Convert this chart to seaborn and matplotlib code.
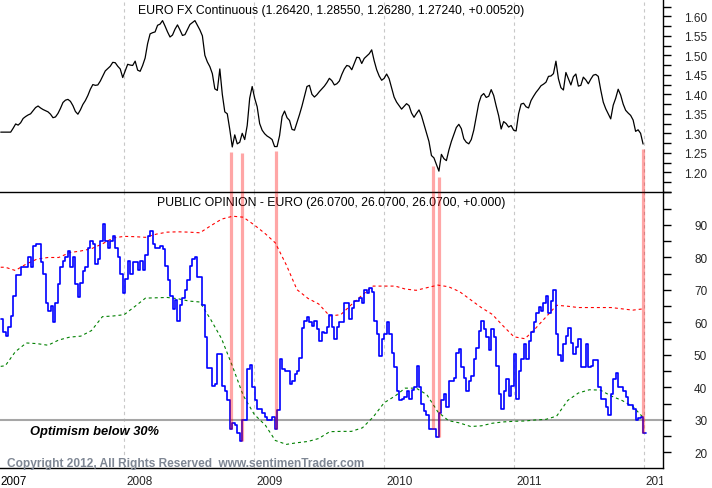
import numpy as np
import pandas as pd
import matplotlib
matplotlib.use("Agg")
import matplotlib.pyplot as plt
import matplotlib.dates as mdates
import matplotlib.ticker as mticker
import matplotlib.transforms as mtransforms
import seaborn as sns

sns.set_style("white")
plt.rcParams["font.family"] = ["Liberation Sans", "DejaVu Sans"]

# ---------------- data ----------------
week_start = "2007-01-19"

euro_price = [
    1.303, 1.303, 1.303, 1.303, 1.303, 1.313, 1.324, 1.321, 1.327, 1.338,
    1.343, 1.347, 1.35, 1.358, 1.366, 1.37, 1.365, 1.361, 1.358, 1.355,
    1.349, 1.34, 1.342, 1.351, 1.364, 1.379, 1.385, 1.387, 1.382, 1.371,
    1.356, 1.349, 1.36, 1.374, 1.384, 1.397, 1.413, 1.425, 1.423, 1.424,
    1.434, 1.447, 1.46, 1.466, 1.472, 1.482, 1.481, 1.472, 1.465, 1.443,
    1.46, 1.477, 1.475, 1.474, 1.485, 1.462, 1.459, 1.474, 1.493, 1.53,
    1.555, 1.558, 1.56, 1.577, 1.58, 1.589, 1.575, 1.56, 1.547, 1.552,
    1.567, 1.578, 1.565, 1.551, 1.553, 1.566, 1.579, 1.584, 1.589, 1.577,
    1.565, 1.55, 1.5, 1.483, 1.471, 1.453, 1.414, 1.41, 1.465, 1.40,
    1.355, 1.35, 1.31, 1.265, 1.296, 1.273, 1.277, 1.3, 1.284, 1.32,
    1.39, 1.42, 1.39, 1.368, 1.325, 1.308, 1.299, 1.293, 1.289, 1.284,
    1.266, 1.266, 1.294, 1.343, 1.357, 1.34, 1.333, 1.31, 1.308, 1.328,
    1.348, 1.37, 1.395, 1.42, 1.423, 1.40, 1.393, 1.399, 1.407, 1.414,
    1.421, 1.43, 1.441, 1.435, 1.424, 1.427, 1.434, 1.451, 1.465, 1.474,
    1.472, 1.463, 1.479, 1.495, 1.494, 1.479, 1.492, 1.498, 1.504, 1.514,
    1.486, 1.463, 1.447, 1.436, 1.441, 1.452, 1.44, 1.417, 1.393, 1.38,
    1.371, 1.362, 1.369, 1.376, 1.371, 1.352, 1.341, 1.351, 1.36, 1.345,
    1.323, 1.302, 1.279, 1.243, 1.237, 1.22, 1.203, 1.246, 1.235, 1.23,
    1.257, 1.279, 1.297, 1.315, 1.323, 1.312, 1.286, 1.277, 1.273, 1.284,
    1.308, 1.342, 1.377, 1.396, 1.402, 1.392, 1.395, 1.412, 1.397, 1.37,
    1.345, 1.311, 1.33, 1.325, 1.316, 1.32, 1.308, 1.306, 1.35, 1.375,
    1.377, 1.368, 1.365, 1.384, 1.395, 1.405, 1.413, 1.422, 1.426, 1.431,
    1.446, 1.447, 1.453, 1.485, 1.44, 1.417, 1.411, 1.456, 1.44, 1.424,
    1.445, 1.452, 1.421, 1.423, 1.444, 1.437, 1.427, 1.439, 1.449, 1.451,
    1.446, 1.411, 1.38, 1.363, 1.35, 1.337, 1.372, 1.39, 1.413, 1.398,
    1.375, 1.359, 1.352, 1.346, 1.334, 1.305, 1.309, 1.30, 1.2724,
]

public_opinion = [
    61, 57, 55.8, 58.5, 62, 68, 74.5, 74.5, 77, 77,
    77, 80, 77, 83.4, 84.3, 84.3, 78.5, 75, 66, 63.4,
    65, 60, 66, 71.7, 77, 79, 80, 82, 77, 80,
    71.7, 67.7, 72, 75.7, 77, 83, 85, 84, 78, 79.5,
    85, 90.4, 85, 83, 85, 86.5, 83, 80, 75, 69,
    73.5, 79, 75, 78.5, 78.5, 76, 79, 76, 80.7, 86.5,
    88.3, 84, 83, 83, 83.5, 82.5, 77.5, 73, 68, 64,
    67, 60.4, 65.5, 67.5, 70, 73.2, 77.3, 79.5, 80.3, 74,
    74, 65.5, 55.4, 46, 46, 40.4, 41, 50.2, 50.2, 40.5,
    39, 36, 27.3, 29, 28.5, 26, 23.5, 30, 30, 45.6,
    46.8, 40, 36, 33.5, 33.5, 32, 31, 30, 30, 31,
    27.3, 33, 48.7, 45.6, 45, 45, 41, 42, 44, 45,
    49, 58.4, 60.5, 61.7, 60, 58.8, 60.4, 58, 54.3, 57,
    56.8, 58.5, 62.4, 58.5, 54.8, 58.5, 60, 60, 66, 66,
    61, 64.5, 66.6, 66.6, 67.5, 66, 70, 69, 70.5, 69.5,
    60.5, 56.4, 49.7, 54.8, 56.4, 60, 56.4, 50.5, 46.3, 39,
    36, 36.5, 37, 39, 36.5, 39.3, 40, 46.7, 40, 34.8,
    32.8, 31.5, 27.2, 27.2, 27.2, 24.8, 32, 36, 38, 34,
    42, 42, 43, 50.5, 51.8, 46.3, 43, 39, 42, 43.5,
    48.7, 52, 57.4, 60.5, 58, 55.4, 51.5, 58, 55.4, 46.7,
    38, 33.4, 39, 42.6, 37.4, 40.4, 50.2, 36.4, 45, 48.7,
    53.3, 48.7, 54.3, 57, 60, 63, 64.7, 63.5, 66, 68.1,
    63, 66.5, 70, 56.4, 50, 48, 53.3, 55.8, 58.2, 53.8,
    50.4, 52.5, 55, 46.3, 46.3, 53.3, 46.3, 46.7, 48.5, 48.5,
    40, 36.5, 36.5, 34, 31.5, 38, 42.6, 44.5, 40, 40,
    39, 37, 34.6, 34.6, 33.4, 30, 30.6, 31, 26,
]

band_upper = [
    77, 77, 76, 78, 79.5, 80, 80, 81.5, 82, 82.7,
    84.2, 86, 86.5, 86.4, 86.2, 87.2, 87.8, 87.9, 87.8, 87.6,
    89.8, 91.8, 92.7, 92.4, 90, 87.3, 84.5, 77.7, 70.1, 67.4,
    65.7, 62, 62.4, 65.5, 68.5, 71.2, 71.2, 71.2, 70.3, 69.9,
    70.7, 71.5, 71, 69.5, 67, 64.6, 62.5, 59, 55.6, 55,
    58, 61.7, 65.3, 65, 64.6, 64.6, 64.6, 64.6, 64.2, 63.8,
    64.2,
]
band_lower = [
    46.5, 46.7, 51, 53.7, 53.5, 53, 54.6, 55.5, 55.8, 57.5,
    61.8, 62, 62.4, 65, 67.5, 67.6, 67.7, 67.3, 66.6, 66.3,
    60.8, 55, 46.4, 37.5, 31.7, 28.4, 23.7, 22.5, 23, 23.4,
    24.3, 26.4, 26.5, 26.5, 27.6, 30.9, 35.3, 37.4, 39.8, 39.8,
    37.8, 32.5, 29.8, 29.1, 28, 28.2, 29, 29.4, 29.6, 29.7,
    30, 30.2, 31.2, 36, 38.3, 39.3, 39.2, 37.4, 36, 34.2,
    30.8,
]

event_dates = ["2008-10-27", "2008-11-26", "2009-03-02",
               "2010-05-17", "2010-06-05", "2011-12-30"]
event_price = [1.252, 1.250, 1.254, 1.217, 1.187, 1.260]
event_opinion = [27.3, 23.5, 27.3, 27.2, 24.8, 26.0]

threshold = 30
price_ticks = [1.20, 1.25, 1.30, 1.35, 1.40, 1.45, 1.50, 1.55, 1.60]
opinion_ticks = [20, 30, 40, 50, 60, 70, 80, 90]

top_title = "EURO FX Continuous (1.26420, 1.28550, 1.26280, 1.27240, +0.00520)"
bottom_title = "PUBLIC OPINION - EURO (26.0700, 26.0700, 26.0700, +0.000)"
note_text = "Optimism below 30%"
copyright_text = "Copyright 2012, All Rights Reserved  www.sentimenTrader.com"

# ---------------- frames ----------------
price_df = pd.DataFrame({
    "date": pd.date_range(week_start, periods=len(euro_price), freq="7D"),
    "price": euro_price,
})
op_dates = pd.date_range(week_start, periods=len(public_opinion) + 1, freq="7D")
op_df = pd.DataFrame({"date": op_dates,
                      "value": public_opinion + [public_opinion[-1]]})
band_dates = ([pd.Timestamp(week_start)]
              + list(pd.date_range("2007-02-01", "2011-12-01", freq="MS"))
              + [pd.Timestamp("2011-12-30")])
band_df = pd.DataFrame({"date": band_dates, "upper": band_upper,
                        "lower": band_lower})
ev = pd.to_datetime(event_dates)

# ---------------- figure ----------------
W, H = 712, 489
fig = plt.figure(figsize=(W / 100, H / 100), dpi=100)
right_px, sep_px, bot_px = 663, 193, 469
ax1 = fig.add_axes([0, (H - sep_px) / H, right_px / W, sep_px / H])
ax2 = fig.add_axes([0, (H - bot_px) / H, right_px / W, (bot_px - sep_px) / H],
                   sharex=ax1)

# top panel: price
sns.lineplot(data=price_df, x="date", y="price", ax=ax1, color="black",
             lw=0.9, zorder=3)
ax1.set_ylim(1.1495, 1.6444)
ax1.vlines(ev, 1.1495, event_price, color="red", alpha=0.35, lw=2.3, zorder=4)

# bottom panel: opinion
ax2.axhline(threshold, color="#a6a6a6", lw=1.5, zorder=1)
sns.lineplot(data=band_df, x="date", y="upper", ax=ax2, color="#ff0000",
             lw=0.8, linestyle=(0, (2.7, 2.7)), zorder=2)
sns.lineplot(data=band_df, x="date", y="lower", ax=ax2, color="#008000",
             lw=0.8, linestyle=(0, (2.7, 2.7)), zorder=2)
sns.lineplot(data=op_df, x="date", y="value", ax=ax2, color="#0000ff",
             lw=1.2, drawstyle="steps-post", zorder=3)
ax2.set_ylim(15.23, 100.15)
ax2.vlines(ev, event_opinion, 100.15, color="red", alpha=0.35, lw=2.3,
           zorder=4)

ax2.set_xlim(pd.Timestamp("2007-01-17"), pd.Timestamp("2012-02-24"))

for ax in (ax1, ax2):
    ax.set_xlabel("")
    ax.set_ylabel("")
    ax.set_facecolor("white")
    ax.grid(True, axis="x", which="major", color="#c8c8c8",
            linestyle=(0, (3, 3)), lw=0.8)
    ax.grid(False, axis="y")
    ax.spines["left"].set_visible(False)
    for s in ax.spines.values():
        s.set_color("black")
        s.set_linewidth(1.0)
    ax.yaxis.tick_right()
    ax.tick_params(axis="y", which="both", direction="out", length=5.8,
                   width=1, color="black", right=True, left=False,
                   labelsize=8.5, pad=26, labelright=True, labelleft=False)

ax1.spines["top"].set_visible(False)
ax1.spines["bottom"].set_visible(False)
ax1.yaxis.set_major_locator(mticker.FixedLocator(price_ticks))
ax1.yaxis.set_minor_locator(mticker.MultipleLocator(0.025))
ax1.yaxis.set_major_formatter(mticker.FormatStrFormatter("%.2f"))
ax1.tick_params(axis="x", which="both", length=0, labelbottom=False)

ax2.yaxis.set_major_locator(mticker.FixedLocator(opinion_ticks))
ax2.yaxis.set_minor_locator(mticker.MultipleLocator(5))
ax2.yaxis.set_major_formatter(mticker.FormatStrFormatter("%d"))

ax2.xaxis.set_major_locator(mdates.YearLocator())
ax2.xaxis.set_minor_locator(mdates.MonthLocator())
ax2.xaxis.set_major_formatter(mdates.DateFormatter("%Y"))
ax2.tick_params(axis="x", which="major", direction="out", length=13.7,
                width=1, color="black", labelsize=8.5, pad=-8.6)
ax2.tick_params(axis="x", which="minor", direction="out", length=3,
                width=1, color="black")

fig.canvas.draw()
for ax in (ax1, ax2):
    plt.setp(ax.get_yticklabels(), ha="right")
clip = mtransforms.TransformedBbox(
    mtransforms.Bbox([[0, 0], [right_px / W, 1]]), fig.transFigure)
shift = mtransforms.ScaledTranslation(2 / 100, 0, fig.dpi_scale_trans)
for lbl in ax2.get_xticklabels():
    lbl.set_ha("left")
    lbl.set_va("top")
    lbl.set_transform(lbl.get_transform() + shift)
    lbl.set_clip_box(clip)
    lbl.set_clip_on(True)

ax2.text(0.001, -7 / 276, "2007", transform=ax2.transAxes, ha="left",
         va="top", fontsize=8.5, color="black")

# titles and notes
ax1.text(0.5, 1 - 11 / 193, top_title, transform=ax1.transAxes,
         ha="center", va="center", fontsize=8.8, color="black")
ax2.text(0.5, 1 - 10 / 276, bottom_title, transform=ax2.transAxes,
         ha="center", va="center", fontsize=8.8, color="black")
ax2.text(30 / right_px, (469 - 432) / 276, note_text, transform=ax2.transAxes,
         ha="left", va="center", fontsize=9.3, fontweight="bold",
         fontstyle="italic", color="black")
ax2.text(7 / right_px, (469 - 464) / 276, copyright_text,
         transform=ax2.transAxes, ha="left", va="center", fontsize=8.6,
         fontweight="bold", color="#7f8794",
         family=["Liberation Sans Narrow", "Liberation Sans", "DejaVu Sans"])

fig.savefig("out.png", dpi=100)
